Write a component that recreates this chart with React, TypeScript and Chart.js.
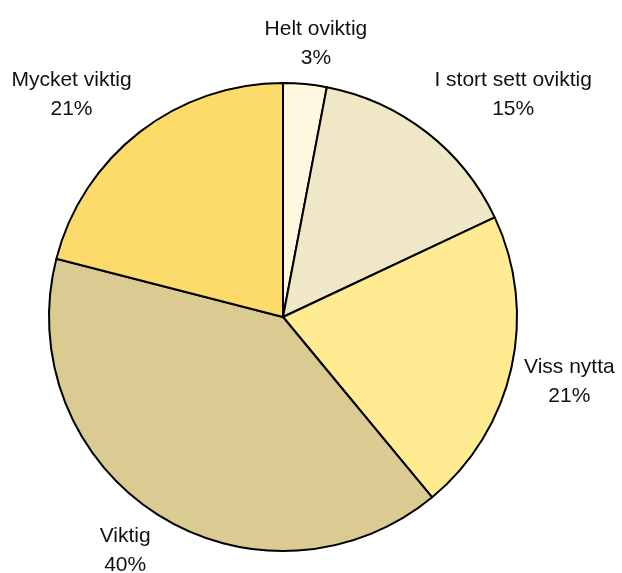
import React, { useEffect, useRef } from "react";
import { Chart, registerables } from "chart.js";

Chart.register(...registerables);

const categories: string[] = [
  "Helt oviktig",
  "I stort sett oviktig",
  "Viss nytta",
  "Viktig",
  "Mycket viktig",
];
const percentages: number[] = [3, 15, 21, 40, 21];
const sliceColors: string[] = ["#FFF7DF", "#EFE7C6", "#FFEB91", "#D9CB91", "#FDDB6A"];

const FONT_SIZE = 21;
const LINE_H = 29;

const labelPlugin = {
  id: "outsideLabels",
  afterDraw(chart: any) {
    const ctx = chart.ctx as CanvasRenderingContext2D;
    const meta = chart.getDatasetMeta(0);
    ctx.save();
    ctx.font = `${FONT_SIZE}px "Liberation Sans", Arial, sans-serif`;
    ctx.fillStyle = "#111";
    ctx.textBaseline = "alphabetic";
    ctx.textAlign = "center";
    meta.data.forEach((arc: any, i: number) => {
      const { x, y, startAngle, endAngle, outerRadius } = arc.getProps(
        ["x", "y", "startAngle", "endAngle", "outerRadius"],
        true
      );
      const mid = (startAngle + endAngle) / 2;
      const cos = Math.cos(mid);
      const sin = Math.sin(mid);
      const r = outerRadius + 13;
      const ax = x + r * cos;
      const ay = y + r * sin;
      const lines = [categories[i], `${percentages[i]}%`];
      const w = Math.max(...lines.map((l) => ctx.measureText(l).width));
      const h = LINE_H * lines.length - 6;
      const sx = Math.max(-1, Math.min(1, cos / 0.5));
      const sy = Math.max(-1, Math.min(1, sin / 0.5));
      const cx = ax + (sx * w) / 2;
      const cy = ay + (sy * h) / 2;
      const top = cy - h / 2;
      lines.forEach((l, k) => {
        ctx.fillText(l, cx, top + FONT_SIZE * 0.78 + k * LINE_H);
      });
    });
    ctx.restore();
  },
};

export default function App() {
  const canvasRef = useRef<HTMLCanvasElement | null>(null);

  useEffect(() => {
    document.body.style.margin = "0";
    const canvas = canvasRef.current;
    if (!canvas) return;
    const chart = new Chart(canvas, {
      type: "pie",
      data: {
        labels: categories,
        datasets: [
          {
            data: percentages,
            backgroundColor: sliceColors,
            borderColor: "#000000",
            borderWidth: 2,
          },
        ],
      },
      options: {
        animation: false,
        responsive: false,
        maintainAspectRatio: false,
        layout: { padding: { left: 48, right: 104, top: 82, bottom: 21 } },
        plugins: {
          legend: { display: false },
          tooltip: { enabled: false },
          title: { display: false },
        },
      },
      plugins: [labelPlugin],
    });
    return () => chart.destroy();
  }, []);

  return (
    <div style={{ width: 622, height: 573, background: "#fff" }}>
      <canvas ref={canvasRef} width={622} height={573} style={{ display: "block" }} />
    </div>
  );
}
